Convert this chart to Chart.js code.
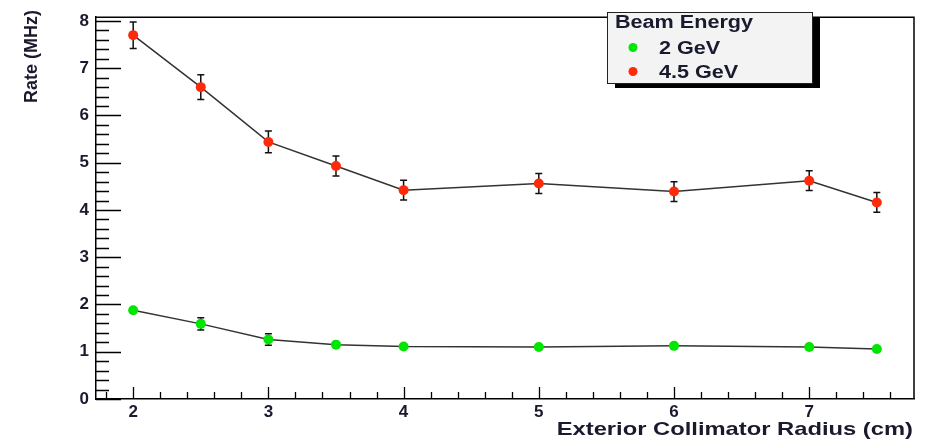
<!DOCTYPE html>
<html>
<head>
<meta charset="utf-8">
<script src="https://cdn.jsdelivr.net/npm/chart.js@4.4.1/dist/chart.umd.min.js"></script>
<style>
  html, body { margin: 0; padding: 0; background: #fff; }
  #wrap { width: 926px; height: 440px; }
</style>
</head>
<body>
<div id="wrap"><canvas id="chart" width="926" height="440"></canvas></div>
<script>
// values
const radius = [2, 2.5, 3, 3.5, 4, 5, 6, 7, 7.5];
const rate2GeV = [1.88, 1.59, 1.26, 1.15, 1.11, 1.10, 1.125, 1.10, 1.06];
const err2GeV = [0, 0.13, 0.12, 0, 0, 0, 0, 0, 0];
const rate45GeV = [7.70, 6.60, 5.44, 4.93, 4.42, 4.56, 4.39, 4.62, 4.16];
const err45GeV = [0.28, 0.26, 0.23, 0.21, 0.21, 0.21, 0.21, 0.21, 0.21];
const xTickValues = [2, 3, 4, 5, 6, 7];
const yTickValues = [0, 1, 2, 3, 4, 5, 6, 7, 8];
const seriesLabels = ["2 GeV", "4.5 GeV"];
const legendTitle = "Beam Energy";
const xTitle = "Exterior Collimator Radius (cm)";
const yTitle = "Rate (MHz)";

const GREEN = "#00e600";
const RED = "#ff2a0a";
const LINE = "#333";
const TEXT = "#1a1a2e";
const FONT = "'Liberation Sans', Arial, sans-serif";
const MARKER_R = 5;

function stretchedText(ctx, text, x, y, size, align, sx) {
  ctx.save();
  ctx.translate(x, y);
  ctx.scale(sx, 1);
  ctx.font = `bold ${size}px ${FONT}`;
  ctx.fillStyle = TEXT;
  ctx.textAlign = align;
  ctx.textBaseline = "alphabetic";
  ctx.fillText(text, 0, 0);
  ctx.restore();
}

const rootFrame = {
  id: "rootFrame",
  beforeDatasetsDraw(chart) {
    const { ctx, scales: { x, y } } = chart;
    ctx.save();
    ctx.strokeStyle = "#111";
    ctx.lineWidth = 1.5;
    chart.data.datasets.forEach((ds) => {
      ds.data.forEach((pt, i) => {
        const err = ds.errors[i];
        if (!err) return;
        const px = x.getPixelForValue(pt.x);
        const top = y.getPixelForValue(pt.y + err);
        const bot = y.getPixelForValue(pt.y - err);
        ctx.beginPath();
        ctx.moveTo(px, top);
        ctx.lineTo(px, bot);
        ctx.moveTo(px - 3.5, top);
        ctx.lineTo(px + 3.5, top);
        ctx.moveTo(px - 3.5, bot);
        ctx.lineTo(px + 3.5, bot);
        ctx.stroke();
      });
    });
    ctx.restore();
  },
  afterDraw(chart) {
    const { ctx, chartArea: a, scales: { x, y } } = chart;
    ctx.save();
    ctx.strokeStyle = "#000";
    ctx.lineWidth = 1.5;

    // frame top and right
    ctx.beginPath();
    ctx.moveTo(a.left, a.top);
    ctx.lineTo(a.right, a.top);
    ctx.lineTo(a.right, a.bottom);
    ctx.stroke();

    // ticks drawn inside the frame, ROOT style
    ctx.lineWidth = 1.3;
    ctx.beginPath();
    for (let v = 0; v <= y.max + 1e-9; v += 0.2) {
      const major = Math.abs(v - Math.round(v)) < 1e-6;
      const py = Math.round(y.getPixelForValue(v)) + 0.5;
      ctx.moveTo(a.left, py);
      ctx.lineTo(a.left + (major ? 25 : 13), py);
    }
    for (let v = Math.ceil(x.min * 5) / 5; v <= x.max + 1e-9; v += 0.2) {
      const major = Math.abs(v - Math.round(v)) < 1e-6;
      const px = Math.round(x.getPixelForValue(v)) + 0.5;
      ctx.moveTo(px, a.bottom);
      ctx.lineTo(px, a.bottom - (major ? 12 : 7));
    }
    ctx.stroke();

    // axis titles
    ctx.save();
    ctx.translate(37, 10);
    ctx.rotate(-Math.PI / 2);
    ctx.font = `bold 18px ${FONT}`;
    ctx.fillStyle = TEXT;
    ctx.textAlign = "right";
    ctx.fillText(yTitle, 0, 0);
    ctx.restore();
    stretchedText(ctx, xTitle, 913, 435, 19, "right", 1.25);

    // legend box with shadow
    const lx = 607, ly = 12, lw = 205, lh = 71;
    ctx.fillStyle = "#000";
    ctx.fillRect(lx + 8, ly + 5, lw, lh);
    ctx.fillStyle = "#f3f3f3";
    ctx.fillRect(lx, ly, lw, lh);
    ctx.lineWidth = 1;
    ctx.strokeStyle = "#222";
    ctx.strokeRect(lx + 0.5, ly + 0.5, lw, lh);
    stretchedText(ctx, legendTitle, 615, 28, 18, "left", 1.2);
    const colors = [GREEN, RED];
    seriesLabels.forEach((label, i) => {
      const cy = 47.5 + i * 24;
      ctx.fillStyle = colors[i];
      ctx.beginPath();
      ctx.arc(633, cy, 4.5, 0, Math.PI * 2);
      ctx.fill();
      stretchedText(ctx, label, 659, cy + 6, 18, "left", 1.2);
    });
    ctx.restore();
  },
};

const tickFont = { family: FONT, size: 17, weight: "bold" };

function makeDataset(label, values, errors, color) {
  return {
    label,
    data: radius.map((r, i) => ({ x: r, y: values[i] })),
    errors,
    showLine: true,
    borderColor: LINE,
    borderWidth: 1.5,
    pointRadius: MARKER_R,
    pointBackgroundColor: color,
    pointBorderWidth: 0,
    pointBorderColor: color,
  };
}

new Chart(document.getElementById("chart"), {
  type: "scatter",
  data: {
    datasets: [
      makeDataset(seriesLabels[0], rate2GeV, err2GeV, GREEN),
      makeDataset(seriesLabels[1], rate45GeV, err45GeV, RED),
    ],
  },
  options: {
    responsive: false,
    animation: false,
    devicePixelRatio: 1,
    layout: { padding: { top: 11, right: 12, left: 0, bottom: 0 } },
    plugins: { legend: { display: false }, tooltip: { enabled: false } },
    scales: {
      x: {
        type: "linear",
        min: 1.725,
        max: 7.775,
        afterFit: (s) => { s.height = 41; },
        afterBuildTicks: (s) => { s.ticks = xTickValues.map((v) => ({ value: v })); },
        grid: { display: false, drawTicks: false },
        border: { display: true, color: "#000", width: 1.5 },
        ticks: { padding: 3, color: TEXT, font: tickFont, autoSkip: false, maxRotation: 0 },
      },
      y: {
        type: "linear",
        min: 0,
        max: 8.08,
        afterFit: (s) => { s.width = 96; },
        afterBuildTicks: (s) => { s.ticks = yTickValues.map((v) => ({ value: v })); },
        grid: { display: false, drawTicks: false },
        border: { display: true, color: "#000", width: 1.5 },
        ticks: { padding: 7, color: TEXT, font: tickFont, autoSkip: false },
      },
    },
  },
  plugins: [rootFrame],
});
</script>
</body>
</html>
